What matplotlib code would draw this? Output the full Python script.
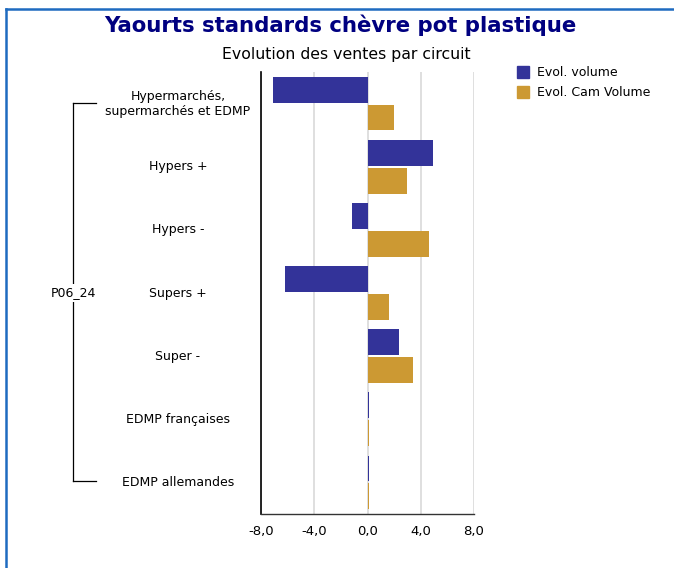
import matplotlib
matplotlib.use("Agg")
import matplotlib.pyplot as plt
from matplotlib.lines import Line2D
from matplotlib.patches import Rectangle
import numpy as np

categories = ["Hypermarchés,\nsupermarchés et EDMP", "Hypers +", "Hypers -",
              "Supers +", "Super -", "EDMP françaises", "EDMP allemandes"]
evol_volume = [-7.1, 4.9, -1.2, -6.2, 2.4, 0.08, 0.08]
evol_cam_volume = [2.0, 3.0, 4.6, 1.6, 3.4, 0.08, 0.08]
series_names = ["Evol. volume", "Evol. Cam Volume"]
x_ticks = [-8, -4, 0, 4, 8]
group_label = "P06_24"
title = "Yaourts standards chèvre pot plastique"
subtitle = "Evolution des ventes par circuit"

c_vol = "#333399"
c_cam = "#CC9933"

plt.rcParams['font.family'] = ['DejaVu Sans']
W, H = 674, 568
fig = plt.figure(figsize=(W / 100, H / 100), dpi=100)

ax = fig.add_axes([261 / W, 1 - 514 / H, (474 - 261) / W, (514 - 72) / H])
y = np.arange(len(categories))
bh = 0.41
off = 0.22
ax.barh(y - off, evol_volume, height=bh, color=c_vol, zorder=3, label=series_names[0])
ax.barh(y + off, evol_cam_volume, height=bh, color=c_cam, zorder=3, label=series_names[1])
ax.set_xlim(-8, 8)
ax.set_ylim(len(categories) - 0.5, -0.5)
ax.set_xticks(x_ticks)
ax.set_xticklabels([f"{v:.1f}".replace(".", ",") for v in x_ticks], fontsize=9.5)
ax.tick_params(axis='x', length=0, pad=8)
ax.set_yticks(y)
ax.set_yticklabels(categories, fontsize=9, linespacing=1.2)
ax.tick_params(axis='y', length=0, pad=83 * 0.72)
for lab in ax.get_yticklabels():
    lab.set_ha('center')
    lab.set_va('center')
ax.xaxis.grid(True, color="#d9d9d9", linewidth=1.2, zorder=0)
ax.set_axisbelow(True)
for s in ["top", "right"]:
    ax.spines[s].set_visible(False)
ax.spines["left"].set_color("black")
ax.spines["left"].set_linewidth(1.2)
ax.spines["bottom"].set_color("#333333")
ax.spines["bottom"].set_linewidth(1.0)

# bracket
def fx(px):
    return px / W

def fy(py):
    return 1 - py / H

bk = dict(color="black", linewidth=0.9, transform=fig.transFigure)
fig.add_artist(Line2D([fx(73), fx(73)], [fy(103), fy(481)], **bk))
fig.add_artist(Line2D([fx(73), fx(96)], [fy(103), fy(103)], **bk))
fig.add_artist(Line2D([fx(73), fx(96)], [fy(481), fy(481)], **bk))
fig.text(fx(73), fy(293), group_label, ha="center", va="center", fontsize=9,
         bbox=dict(facecolor="white", edgecolor="none", pad=1.5))

# titles
fig.text(fx(340), fy(25), title, ha="center", va="center", fontsize=15.3,
         fontweight="bold", color="#000080")
fig.text(fx(346), fy(55), subtitle, ha="center", va="center", fontsize=11.3, color="black")

# legend
for i, (name, col) in enumerate(zip(series_names, [c_vol, c_cam])):
    yy = 72 + 20 * i
    fig.add_artist(Rectangle((fx(517), fy(yy + 6)), 12 / W, 12 / H, color=col,
                             transform=fig.transFigure))
    fig.text(fx(537), fy(yy), name, ha="left", va="center", fontsize=9)

# frame
fr = dict(color="#1E6BC0", linewidth=1.8, transform=fig.transFigure)
fig.add_artist(Line2D([fx(6), fx(6)], [fy(9), 0], **fr))
fig.add_artist(Line2D([fx(6), 1], [fy(9), fy(9)], **fr))

fig.savefig("out.png", dpi=100)
